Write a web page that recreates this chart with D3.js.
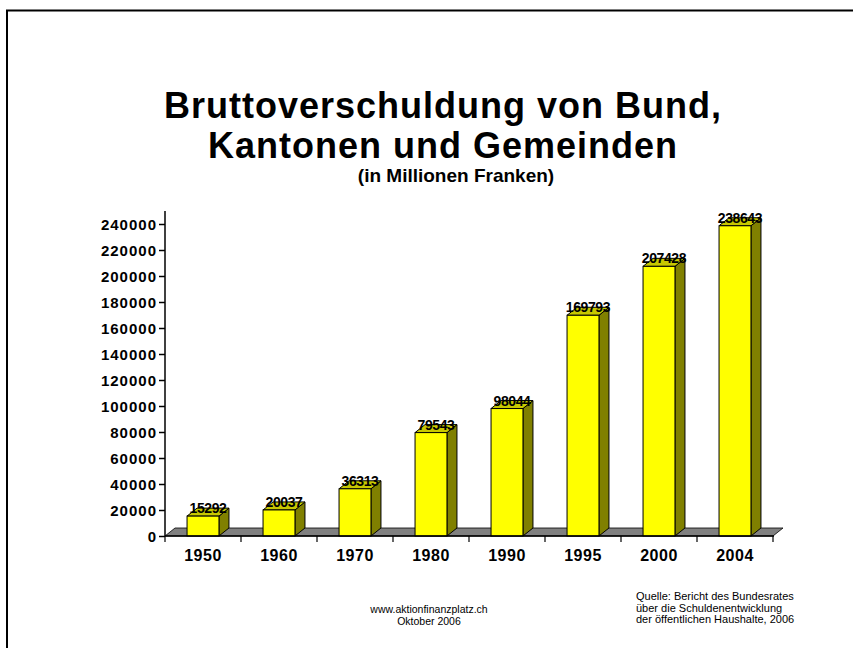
<!DOCTYPE html>
<html>
<head>
<meta charset="utf-8">
<script src="https://cdn.jsdelivr.net/npm/d3@7"></script>
<style>
  body { margin: 0; background: #fff; }
  svg { display: block; font-family: "Liberation Sans", Arial, sans-serif; }
</style>
</head>
<body>
<svg id="chart" width="853" height="648"></svg>
<script>
// data
var years = ['1950', '1960', '1970', '1980', '1990', '1995', '2000', '2004'];
var debt = [15292, 20037, 36313, 79543, 98044, 169793, 207428, 238643];
var yTicks = [0, 20000, 40000, 60000, 80000, 100000, 120000, 140000, 160000, 180000, 200000, 220000, 240000];
var titleLines = ['Bruttoverschuldung von Bund,', 'Kantonen und Gemeinden'];
var subtitle = '(in Millionen Franken)';
var footerLines = ['www.aktionfinanzplatz.ch', 'Oktober 2006'];
var sourceLines = ['Quelle: Bericht des Bundesrates', 'über die Schuldenentwicklung', 'der öffentlichen Haushalte, 2006'];

var svg = d3.select('#chart');

// slide frame
svg.append('path')
    .attr('d', 'M7,648 L7,10.5 L853,10.5')
    .style('fill', 'none').style('stroke', '#000').style('stroke-width', 2);

// titles
svg.selectAll('.title').data(titleLines).enter().append('text')
    .attr('class', 'title')
    .attr('x', 443).attr('y', (d, i) => 118 + i * 40)
    .attr('text-anchor', 'middle')
    .style('font-size', '36px').style('font-weight', 'bold').style('letter-spacing', '1px')
    .text(d => d);
svg.append('text')
    .attr('x', 456).attr('y', 182)
    .attr('text-anchor', 'middle')
    .style('font-size', '19px').style('font-weight', 'bold')
    .text(subtitle);

/*************************************************************************/

var x0 = 165, x1 = 773, yBase = 536;
var dx = 10, dy = 8;   // 3d depth

var xScale = d3.scaleBand().domain(years).range([x0, x1]).padding(0);
var yScale = d3.scaleLinear().domain([0, 250000]).range([yBase, 211]);
var barW = xScale.bandwidth() * 0.42;

var plot = svg.append('g');

// floor
plot.append('path')
    .attr('d', 'M' + x0 + ',' + yBase + ' L' + (x0 + dx) + ',' + (yBase - dy) +
               ' L' + (x1 + dx) + ',' + (yBase - dy) + ' L' + x1 + ',' + yBase + ' Z')
    .style('fill', '#808080').style('stroke', '#000').style('stroke-width', 0.8);

// bars
var bars = plot.selectAll('.bar').data(years).enter().append('g').attr('class', 'bar');
bars.each(function(d, i){
    var g = d3.select(this);
    var cx = xScale(d) + xScale.bandwidth() / 2;
    var l = cx - barW / 2, r = cx + barW / 2, t = yScale(debt[i]);
    g.append('path')
        .attr('d', 'M' + r + ',' + yBase + ' L' + (r + dx) + ',' + (yBase - dy) + ' L' + (r + dx) + ',' + (t - dy) + ' L' + r + ',' + t + ' Z')
        .style('fill', '#808000').style('stroke', '#000').style('stroke-width', 1);
    g.append('path')
        .attr('d', 'M' + l + ',' + t + ' L' + (l + dx) + ',' + (t - dy) + ' L' + (r + dx) + ',' + (t - dy) + ' L' + r + ',' + t + ' Z')
        .style('fill', '#c8c800').style('stroke', '#000').style('stroke-width', 1);
    g.append('rect')
        .attr('x', l).attr('y', t).attr('width', barW).attr('height', yBase - t)
        .style('fill', '#ffff00').style('stroke', '#000').style('stroke-width', 1);
    g.append('text')
        .attr('x', cx + dx / 2).attr('y', t - 3)
        .attr('text-anchor', 'middle')
        .style('font-size', '14px').style('font-weight', 'bold').style('letter-spacing', '-0.4px')
        .text(debt[i]);
});

// y axis
var yAxis = plot.append('g').attr('transform', 'translate(' + x0 + ',0)')
    .call(d3.axisLeft(yScale).tickValues(yTicks).tickSize(6).tickPadding(2).tickFormat(d3.format('d')));
yAxis.select('.domain').attr('d', 'M0,' + yBase + 'V211').style('stroke', '#000').style('stroke-width', 1.5);
yAxis.selectAll('.tick line').style('stroke', '#000').style('stroke-width', 1.5);
yAxis.selectAll('.tick text')
    .style('font-family', '"Liberation Sans", Arial, sans-serif')
    .style('font-size', '15px').style('font-weight', 'bold').style('letter-spacing', '1px')
    .attr('dy', '0.36em').style('fill', '#000');

// x axis
var xAxis = plot.append('g').attr('transform', 'translate(0,' + yBase + ')');
xAxis.append('line').attr('x1', x0).attr('x2', x1 + 1).attr('y1', 0).attr('y2', 0)
    .style('stroke', '#000').style('stroke-width', 1.5);
xAxis.selectAll('.xt').data(years.concat(['end'])).enter().append('line')
    .attr('x1', (d, i) => x0 + i * xScale.bandwidth()).attr('x2', (d, i) => x0 + i * xScale.bandwidth())
    .attr('y1', 0).attr('y2', 6)
    .style('stroke', '#000').style('stroke-width', 1.2);
xAxis.selectAll('.xl').data(years).enter().append('text')
    .attr('x', d => xScale(d) + xScale.bandwidth() / 2).attr('y', 25)
    .attr('text-anchor', 'middle')
    .style('font-size', '16px').style('font-weight', 'bold').style('letter-spacing', '0.5px')
    .text(d => d);

/*************************************************************************/

svg.selectAll('.foot').data(footerLines).enter().append('text')
    .attr('x', 429).attr('y', (d, i) => 613 + i * 12)
    .attr('text-anchor', 'middle')
    .style('font-size', '10.5px')
    .text(d => d);
svg.selectAll('.src').data(sourceLines).enter().append('text')
    .attr('x', 636).attr('y', (d, i) => 600 + i * 11.5)
    .style('font-size', '11px')
    .text(d => d);
</script>
</body>
</html>
